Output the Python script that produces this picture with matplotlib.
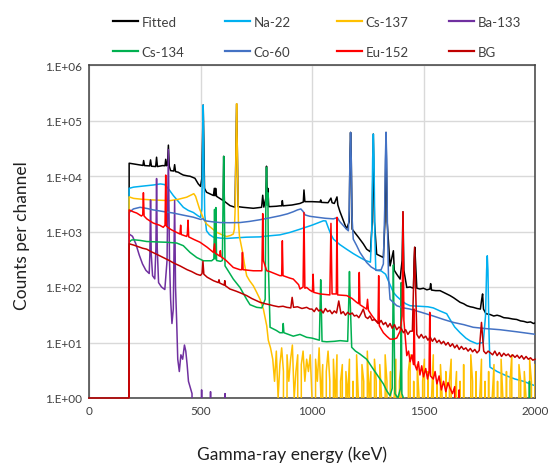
import matplotlib
matplotlib.use("Agg")
import matplotlib.pyplot as plt
from matplotlib.lines import Line2D
from matplotlib.ticker import FuncFormatter
import numpy as np

plt.rcParams["font.family"] = ["Lato", "DejaVu Sans"]

# (energy keV, counts per channel)
FITTED = [(179, 0), (180, 17000), (200, 16500), (229, 15800), (242, 15500), (245, 19000),
          (249, 15400), (272, 15200), (276, 19500), (280, 15000), (299, 14800), (303, 21800),
          (307, 14800), (330, 15400), (341, 15300), (344, 20000), (348, 15300), (352, 16000),
          (356, 36000), (360, 15000), (366, 12500), (380, 12300), (384, 16000), (388, 12000),
          (400, 11700), (411, 11000), (423, 10400), (444, 10000), (453, 9900), (475, 9100),
          (490, 7200), (500, 6500), (506, 9000), (509, 40000), (512, 190000), (515, 40000),
          (518, 6000), (527, 5100), (558, 4450), (562, 6000), (565, 4400), (568, 6000), (572, 4300),
          (602, 3600), (604, 22600), (607, 3500), (632, 2930), (655, 2730), (659, 30000),
          (662, 200000), (665, 30000), (669, 2800), (690, 2730), (737, 2620), (774, 2730),
          (779, 4500), (784, 2750), (793, 4000), (796, 15000), (799, 4500), (802, 6000), (806, 2800),
          (840, 2850), (856, 2900), (864, 2900), (867, 3600), (870, 2900), (910, 3000), (946, 3200),
          (961, 3400), (964, 5600), (968, 3450), (1000, 3450), (1036, 3400), (1039, 3700),
          (1042, 3350), (1072, 3300), (1085, 4000), (1090, 3300), (1100, 3200), (1112, 4200),
          (1116, 3000), (1125, 2300), (1141, 1560), (1155, 1110), (1167, 1500), (1170, 20000),
          (1173, 61000), (1176, 20000), (1180, 1100), (1208, 790), (1230, 600), (1245, 480),
          (1262, 430), (1270, 1500), (1275, 57000), (1280, 1500), (1290, 390), (1320, 340),
          (1327, 1500), (1332, 61000), (1337, 1500), (1350, 240), (1365, 450), (1369, 200),
          (1380, 170), (1395, 139), (1404, 300), (1408, 2270), (1412, 200), (1425, 98),
          (1440, 100), (1455, 95), (1458, 300), (1461, 520), (1464, 300), (1470, 95),
          (1484, 92), (1500, 95), (1515, 89), (1529, 92), (1532, 115), (1536, 88), (1555, 86),
          (1574, 86), (1590, 80), (1605, 75), (1619, 70), (1635, 64), (1650, 58), (1664, 53),
          (1680, 50), (1695, 46), (1710, 44), (1723, 43), (1740, 41), (1755, 40), (1761, 60),
          (1765, 75), (1769, 40), (1780, 33), (1798, 32), (1815, 30), (1830, 31), (1843, 30),
          (1860, 28), (1880, 27.5), (1900, 26.5), (1918, 26), (1935, 24.5), (1950, 24),
          (1965, 23), (1980, 23.5), (1993, 22), (2000, 22.5)]

NA22 = [(179, 0), (180, 6000), (200, 6300), (230, 6500), (260, 6700), (290, 6900), (320, 7200),
        (340, 7000), (360, 5600), (378, 4450), (400, 3500), (423, 2730), (445, 2400), (468, 2200),
        (490, 1900), (500, 1800), (506, 2500), (509, 20000), (512, 190000), (515, 20000),
        (519, 2000), (527, 1030), (540, 880), (558, 790), (590, 760), (617, 750), (660, 770),
        (707, 790), (767, 800), (800, 830), (856, 870), (900, 960), (946, 1100), (1000, 1300),
        (1051, 1560), (1062, 1550), (1072, 1200), (1084, 900), (1096, 730), (1125, 580),
        (1155, 480), (1185, 400), (1215, 340), (1240, 300), (1262, 280), (1268, 1000),
        (1272, 20000), (1275, 57000), (1278, 20000), (1282, 800), (1286, 200), (1310, 195),
        (1330, 170), (1342, 130), (1365, 80), (1380, 68), (1395, 60), (1420, 50), (1440, 46),
        (1480, 45), (1520, 44), (1544, 42), (1574, 37), (1604, 33), (1619, 26), (1640, 19),
        (1664, 15), (1690, 12), (1709, 10.7), (1740, 9.5), (1768, 10), (1778, 30), (1783, 200),
        (1786, 365), (1789, 200), (1793, 20), (1798, 3.6), (1830, 3.0), (1873, 2.5),
        (1910, 2.2), (1948, 2.0), (1993, 1.7), (2000, 1.7)]

CS137 = [(179, 0), (180, 4200), (200, 3950), (240, 3800), (288, 3700), (330, 3650), (363, 3600),
         (400, 3800), (438, 4150), (460, 4600), (470, 4800), (478, 4300), (487, 3300),
         (495, 2600), (505, 2080), (515, 1650), (527, 1370), (550, 1150), (572, 970), (595, 880),
         (617, 810), (635, 850), (647, 900), (652, 1100), (656, 3000), (659, 30000),
         (662, 200000), (665, 30000), (670, 1500), (675, 800), (683, 550), (690, 400),
         (697, 260), (707, 160), (720, 130), (737, 105), (752, 80), (767, 60), (782, 40),
         (797, 20), (804, 11), (814, 8)]
# channel noise of the Cs-137 tail, one value every 8 keV from 824 keV
CS137_TAIL = [5, 2, 7, 1, 4, 8, 3, 0, 6, 2, 5, 9, 1, 3, 6, 0, 4, 7, 2, 5,
              3, 6, 1, 0, 5, 2, 8, 1, 4, 0, 3, 7, 2, 0, 5, 1, 6, 0, 2, 4,
              0, 3, 1, 5, 0, 2, 0, 6, 1, 0, 4, 2, 0, 7, 1, 3, 0, 5, 2, 0,
              4, 1, 0, 6, 2, 0, 3, 0, 1, 5, 0, 2, 4, 0, 1, 0, 3, 6, 0, 2,
              0, 4, 1, 0, 2, 5, 0, 3, 0, 1, 6, 0, 2, 0, 4, 1, 0, 3, 0, 2,
              5, 0, 1, 3, 0, 2, 0, 4, 0, 1, 0, 6, 2, 0, 3, 0, 1, 5, 0, 2,
              0, 3, 0, 1, 4, 0, 2, 0, 5, 1, 0, 3, 0, 2, 6, 0, 1, 0, 4, 2,
              0, 3, 1, 0, 5, 2, 0, 4]

BA133 = [(179, 0), (180, 900), (195, 820), (210, 600), (225, 380), (240, 260), (255, 200),
         (270, 175), (273, 400), (276, 3700), (279, 400), (285, 160), (295, 140), (300, 500),
         (303, 9000), (306, 500), (312, 120), (325, 100), (340, 90), (350, 300), (356, 30000),
         (361, 300), (366, 60), (372, 22), (378, 40), (384, 3600), (388, 100), (393, 25),
         (398, 5), (405, 3), (412, 6), (420, 5), (428, 9), (434, 7), (440, 4), (446, 2),
         (455, 1.5), (462, 1.2), (470, 0), (500, 0), (505, 1.4), (510, 0), (540, 0), (545, 1.3),
         (550, 0), (606, 0), (610, 1.2), (614, 0)]

CS134 = [(179, 0), (180, 640), (190, 700), (200, 710), (230, 690), (259, 660), (300, 650),
         (348, 640), (393, 620), (423, 555), (453, 420), (475, 360), (483, 340), (513, 297),
         (550, 297), (560, 320), (563, 2500), (566, 320), (569, 2700), (572, 300), (590, 290),
         (598, 300), (601, 3000), (604, 22600), (607, 3000), (610, 240), (624, 196), (647, 139),
         (677, 98), (707, 60), (722, 48), (752, 43), (775, 42), (790, 60), (793, 3000),
         (796, 14400), (799, 3000), (802, 5000), (805, 200), (812, 18.8), (840, 16.5),
         (856, 15), (868, 15), (871, 22), (874, 15), (916, 13), (946, 14), (976, 12.4),
         (1000, 12), (1033, 11), (1036, 40), (1039, 135), (1042, 40), (1045, 10.5), (1066, 10.3),
         (1100, 10.5), (1126, 10.8), (1160, 10.5), (1165, 60), (1168, 190), (1171, 60),
         (1178, 8.2), (1195, 7), (1215, 6.2), (1245, 5), (1275, 3.3), (1305, 2.2), (1320, 1.8),
         (1335, 1.35), (1350, 1.1), (1360, 1.5), (1363, 40), (1365, 250), (1367, 40),
         (1372, 1.2), (1385, 1), (1397, 1.5), (1400, 120), (1403, 1.2), (1410, 1), (1418, 0),
         (1970, 0), (1975, 2), (1980, 0)]

CO60 = [(179, 0), (180, 2200), (199, 2550), (229, 2730), (260, 2600), (288, 2450), (330, 2300),
        (378, 2150), (420, 1980), (468, 1810), (500, 1650), (511, 1700), (520, 1560),
        (550, 1500), (587, 1450), (630, 1440), (677, 1450), (720, 1520), (767, 1630),
        (810, 1760), (856, 1920), (890, 2080), (916, 2270), (935, 2450), (950, 2550),
        (960, 2300), (969, 1990), (990, 1880), (1021, 1810), (1060, 1730), (1096, 1690),
        (1113, 1780), (1125, 1500), (1141, 1270), (1155, 1100), (1163, 1030), (1167, 2500),
        (1170, 20000), (1173, 61000), (1176, 20000), (1179, 2000), (1185, 730), (1200, 560),
        (1215, 420), (1245, 277), (1265, 230), (1290, 200), (1310, 205), (1320, 260),
        (1326, 2500), (1329, 20000), (1332, 61000), (1335, 20000), (1338, 1500), (1343, 150),
        (1350, 60), (1380, 46), (1410, 42), (1440, 40), (1490, 35), (1544, 30), (1590, 26),
        (1634, 23), (1680, 21), (1723, 18.8), (1780, 17.8), (1843, 17), (1918, 15.6),
        (1993, 14.2), (2000, 14)]

EU152 = [(179, 0), (180, 2450), (200, 2250), (214, 2150), (235, 1900), (241, 2000), (244, 5000),
         (247, 1900), (259, 1690), (288, 1420), (318, 1290), (333, 1190), (341, 1300),
         (344, 10400), (347, 1250), (365, 1100), (378, 1030), (408, 900), (411, 1300),
         (414, 880), (438, 815), (441, 900), (444, 1600), (447, 800), (470, 720), (498, 640),
         (530, 520), (558, 420), (563, 600), (566, 410), (586, 360), (589, 450), (592, 350),
         (602, 330), (615, 300), (647, 225), (677, 205), (685, 205), (688, 420), (691, 205),
         (737, 196), (775, 196), (776, 300), (779, 2100), (782, 300), (797, 196), (810, 190),
         (856, 160), (864, 160), (867, 680), (870, 160), (900, 145), (916, 139), (940, 110),
         (946, 92), (960, 100), (964, 2200), (968, 95), (976, 98), (990, 88), (1002, 82),
         (1005, 170), (1008, 80), (1036, 75), (1080, 72), (1085, 1400), (1090, 75), (1109, 75),
         (1112, 1800), (1115, 72), (1156, 70), (1180, 62), (1200, 53), (1209, 50), (1212, 183),
         (1215, 48), (1245, 40), (1249, 60), (1253, 38), (1270, 30), (1296, 22), (1299, 160),
         (1302, 20), (1320, 15), (1335, 13), (1350, 11.5), (1365, 11.5), (1380, 12), (1395, 16),
         (1404, 30), (1408, 2270), (1412, 25), (1425, 5.8), (1433, 7), (1440, 4.5), (1448, 6),
         (1455, 4), (1458, 40), (1461, 4), (1470, 3.2), (1477, 4.5), (1484, 2.6), (1492, 3.8),
         (1500, 2.4), (1510, 3.4), (1518, 2.2), (1525, 3), (1528, 35), (1531, 2.5), (1544, 2.2),
         (1552, 3), (1560, 1.8), (1570, 2.5), (1580, 1.4), (1590, 2), (1600, 1.3), (1610, 1.9),
         (1619, 1.5), (1630, 1.2), (1640, 1.6), (1650, 0), (1660, 1.4), (1665, 0)]

BG = [(0, 1), (179, 1), (180, 600), (200, 570), (220, 535), (240, 500), (259, 480), (280, 430),
      (300, 395), (333, 340), (360, 300), (380, 270), (408, 240), (440, 205), (460, 190),
      (483, 170), (500, 162), (507, 175), (511, 290), (515, 170), (530, 150), (558, 130),
      (580, 120), (583, 135), (586, 118), (606, 108), (609, 130), (612, 105), (632, 92),
      (660, 84), (680, 78), (707, 70), (730, 62), (750, 57), (767, 53), (790, 50), (810, 48),
      (827, 46), (850, 44), (870, 45), (887, 43), (905, 42), (911, 65), (917, 43), (935, 44),
      (955, 41), (976, 43), (990, 40)]
# noisy BG tail, one value every 10 keV from 1000 keV to 2000 keV
BG_TAIL = [40, 36, 42, 37, 39, 34, 41, 36, 38, 33,
           37, 34, 56, 33, 36, 31, 35, 32, 34, 30,
           31, 28, 33, 40, 29, 27, 30, 25, 26, 24,
           22, 25, 21, 23, 19, 22, 18, 21, 17, 19,
           18, 15, 17, 14, 16, 16, 520, 14, 12, 14,
           12, 13, 11, 12.5, 10.5, 12, 10, 11, 9.5, 10.5,
           9, 10, 8.5, 9.5, 8, 9, 7.5, 8.5, 7.5, 8,
           7, 7.8, 6.8, 7.5, 6.5, 7.2, 23, 7, 6.3, 7,
           6.5, 6, 7, 5.8, 6.6, 5.6, 6.4, 5.8, 6.2, 5.5,
           6, 5.4, 5.9, 5.2, 5.8, 5, 5.6, 5, 5.3, 4.8,
           5]

cs137_tail_keV = np.arange(824, 824 + 8 * len(CS137_TAIL), 8)
bg_tail_keV = np.arange(1000, 1000 + 10 * len(BG_TAIL), 10)

series = [
    ("Fitted", "#000000", FITTED, None),
    ("Na-22", "#00B0F0", NA22, None),
    ("Cs-137", "#FFC000", CS137, (cs137_tail_keV, CS137_TAIL)),
    ("Ba-133", "#7030A0", BA133, None),
    ("Cs-134", "#00B050", CS134, None),
    ("Co-60", "#4472C4", CO60, None),
    ("Eu-152", "#FF0000", EU152, None),
    ("BG", "#C00000", BG, (bg_tail_keV, BG_TAIL)),
]

fig = plt.figure(figsize=(5.49, 4.64), dpi=100)
ax = fig.add_axes([89 / 549, 1 - 399 / 464, 446 / 549, 333 / 464])

for name, color, pts, tail in series:
    e, c = zip(*pts)
    e, c = list(e), list(c)
    if tail is not None:
        e += list(tail[0])
        c += list(tail[1])
    # BG runs along the bottom edge below 180 keV, keep it visible there
    ax.plot(e, c, color=color, lw=1.1, label=name, zorder=3, clip_on=(name != "BG"))

ax.set_yscale("log", nonpositive="clip")
ax.set_xlim(0, 2000)
ax.set_ylim(1, 1e6)
ax.set_xticks([0, 500, 1000, 1500, 2000])
ax.set_yticks([10.0 ** k for k in range(7)])
ax.yaxis.set_major_formatter(FuncFormatter(lambda v, p: f"1.E+{int(round(np.log10(v))):02d}"))
ax.minorticks_off()
ax.tick_params(length=0, labelsize=8.5, labelcolor="#404040", pad=5)
ax.grid(True, color="#d9d9d9", lw=1)
ax.set_axisbelow(True)
for s in ax.spines.values():
    s.set_color("#404040")
    s.set_linewidth(1.1)
    s.set_zorder(2.5)

ax.set_xlabel("Gamma-ray energy (keV)", fontsize=12.5, color="#202020", va="center")
ax.set_ylabel("Counts per channel", fontsize=12.5, color="#202020", va="center")
ax.xaxis.set_label_coords(0.455, -0.168)
ax.yaxis.set_label_coords(-0.15, 0.49)

# legend: 4 columns of 2 entries, placed like the reference
handles = {name: Line2D([], [], color=color, lw=1.6) for name, color, _, _ in series}
columns = [("Fitted", "Cs-134"), ("Na-22", "Co-60"), ("Cs-137", "Eu-152"), ("Ba-133", "BG")]
for i, col in enumerate(columns):
    leg = fig.legend([handles[n] for n in col], col, loc="upper left",
                     bbox_to_anchor=((113 + 112 * i) / 549, 1 - 17 / 464),
                     frameon=False, fontsize=9.5, handlelength=1.9, handletextpad=0.25,
                     labelspacing=1.35, borderpad=0, borderaxespad=0)
    for t in leg.get_texts():
        t.set_color("#404040")

fig.savefig("out.png", dpi=100)
